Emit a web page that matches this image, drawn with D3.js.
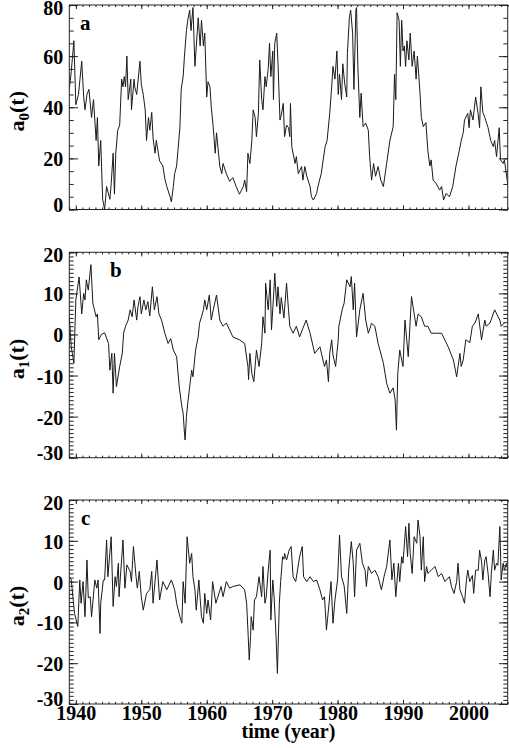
<!DOCTYPE html>
<html>
<head>
<meta charset="utf-8">
<title>a0 a1 a2</title>
<style>
  body { margin: 0; background: #fff; }
  svg text { font-family: "Liberation Serif", "Times New Roman", serif; font-weight: bold; fill: #000; }
</style>
</head>
<body>
<svg id="svg" width="509" height="748"></svg>

<script src="https://d3js.org/d3.v7.min.js"></script>
<script>
// values (time in years)
const t0 = [1939.0,1939.3,1939.7,1940.0,1940.4,1940.9,1941.2,1941.4,1941.7,1942.0,1942.4,1942.7,1943.1,1943.3,1943.5,1943.8,1944.1,1944.4,1944.7,1945.2,1945.4,1945.7,1945.9,1946.1,1946.4,1946.7,1947.0,1947.2,1947.4,1947.6,1947.8,1948.0,1948.4,1948.5,1948.9,1949.0,1949.3,1949.8,1950.0,1950.3,1950.6,1950.8,1951.1,1951.3,1951.6,1951.8,1952.1,1952.3,1952.8,1953.3,1953.6,1953.9,1954.4,1954.6,1954.9,1955.1,1955.4,1955.6,1955.9,1956.1,1956.4,1956.6,1956.9,1957.1,1957.4,1957.6,1957.9,1958.2,1958.7,1959.0,1959.2,1959.5,1959.7,1960.0,1960.2,1960.5,1960.7,1961.0,1961.3,1961.5,1962.0,1962.3,1962.5,1963.0,1963.5,1964.0,1964.5,1965.0,1965.6,1965.8,1966.1,1966.3,1966.6,1966.9,1967.1,1967.4,1967.6,1967.9,1968.1,1968.4,1968.6,1968.9,1969.1,1969.4,1969.6,1969.8,1970.1,1970.2,1970.4,1970.7,1970.9,1971.2,1971.4,1971.7,1971.9,1972.2,1972.5,1972.7,1972.8,1973.0,1973.5,1973.7,1974.0,1974.5,1974.7,1975.0,1975.3,1975.8,1976.0,1976.3,1976.8,1977.0,1977.5,1977.8,1978.1,1978.4,1978.8,1979.1,1979.3,1979.6,1979.9,1980.1,1980.3,1980.6,1980.8,1981.1,1981.4,1981.5,1981.8,1982.0,1982.3,1982.5,1982.8,1982.9,1983.1,1983.4,1983.6,1983.9,1984.3,1984.7,1984.9,1985.2,1985.5,1985.8,1986.2,1986.6,1987.0,1987.5,1988.0,1988.5,1988.7,1988.9,1989.1,1989.4,1989.6,1989.8,1990.0,1990.2,1990.4,1990.6,1990.9,1991.1,1991.4,1991.7,1992.0,1992.2,1992.6,1992.8,1993.1,1993.5,1993.8,1994.1,1994.3,1994.6,1995.1,1995.6,1995.9,1996.2,1996.6,1997.1,1997.6,1998.1,1998.6,1998.9,1999.2,1999.4,1999.9,2000.1,2000.3,2000.7,2001.1,2001.5,2001.7,2001.9,2002.2,2002.5,2003.0,2003.4,2003.8,2004.0,2004.3,2004.7,2004.9,2005.3,2005.5,2006.0];
const a0 = [47,54,66,41,45,58,44,39,45,47,36,43,27,36,17,27,4,0,9,4,10,22,6,22,31,33,51,48,52,48,60,43,51,39,51,48,45,58,49,45,39,27,36,31,38,28,22,27,19,17,12,9,5,3,9,14,17,23,32,47,52,60,70,74,78,70,79,56,75,64,74,64,69,44,50,48,40,32,22,30,17,14,18,14,11,12.5,9,6,9,11.5,7,22,18,27,39,36,28.5,37.6,58.5,43,39,52,48,55,65,52,62,43,65,69,57,35,37,41.5,28.5,33,32,28.5,41.5,24.6,18,20.7,14,16.8,11.5,16.8,13,9,5,3.7,6.3,9,14,19.4,24.6,27,37.6,48,56,51,62,45,53,43,57,49,44,61,75,78,69,47,78,79,56,36,45.5,32.4,33.8,31,20.7,11.5,18,13,16.8,11.5,9,18,27,32.4,53,43,77,74,56,74,62,64,56,66,58.5,69,56,62,51,60,45.5,36,32.4,34,23,17,19.4,11.5,10,7.6,9,3.7,6.3,5,9,17,23,27,30,35,37.6,32,39,35,44,37,32,48,38,36,32,27,24.6,27,20.7,32,19.4,18,19.4,10];

const t1 = [1939.0,1939.3,1939.7,1940.0,1940.5,1940.9,1941.2,1941.4,1941.6,1941.9,1942.3,1942.6,1943.1,1943.3,1943.5,1943.9,1944.4,1945.0,1945.2,1945.5,1945.7,1945.9,1946.2,1946.7,1947.1,1947.3,1947.6,1948.0,1948.3,1948.6,1948.9,1949.3,1949.5,1949.8,1950.0,1950.4,1950.7,1951.0,1951.3,1951.7,1952.0,1952.4,1952.7,1953.1,1953.6,1954.1,1954.5,1954.9,1955.4,1955.8,1956.2,1956.4,1956.6,1956.7,1956.9,1957.1,1957.4,1957.7,1957.9,1958.3,1958.7,1958.9,1959.2,1959.5,1959.7,1960.0,1960.4,1960.7,1961.0,1961.5,1962.0,1962.5,1963.0,1963.5,1964.0,1965.0,1965.8,1966.3,1966.4,1966.6,1966.9,1967.2,1967.6,1968.0,1968.4,1968.6,1968.9,1969.0,1969.4,1969.7,1969.9,1970.3,1970.4,1970.7,1970.9,1971.2,1971.4,1971.8,1972.2,1972.5,1972.7,1973.2,1973.7,1974.2,1974.7,1975.2,1975.8,1976.5,1977.3,1978.0,1978.3,1978.6,1978.8,1979.1,1979.3,1979.7,1980.1,1980.2,1980.7,1981.0,1981.4,1981.9,1982.1,1982.4,1982.6,1982.9,1983.4,1983.9,1984.3,1984.7,1985.2,1985.7,1986.2,1987.0,1987.5,1988.0,1988.5,1988.8,1989.0,1989.2,1989.5,1990.0,1990.3,1990.8,1991.3,1992.0,1992.3,1992.8,1993.3,1993.8,1994.3,1995.1,1995.9,1996.9,1997.7,1998.2,1998.7,1998.9,1999.2,1999.6,2000.2,2000.6,2001.0,2001.5,2002.0,2002.5,2002.7,2003.3,2004.0,2004.8,2005.0,2005.5,2006.0];
const a1 = [4.3,-3,-7,8.4,14,5,10,8.4,13.3,10.8,17,7.6,4.3,5,-1.3,0,0.4,-2.2,-8.7,-4.6,-14.3,-4.6,-12.7,-7.8,-4.6,0.3,2,3.5,6,4.3,8.4,3.5,6.8,9.2,5,8.4,6,8,4.5,11.6,6,9.2,5,3.5,0.3,-2.2,-1,-3.8,-5.4,-12.7,-17.6,-19.2,-24,-25.7,-20,-16.8,-12.7,-8.7,-10.3,-3.8,-0.6,2.7,4.3,6,8.4,6,9.6,3.5,6,9.6,3.5,2,2.8,1.1,-0.6,-1.3,-2.2,-7.8,-11,-4.6,-9.5,-11.5,-3.8,-7.8,-2.2,4.3,0.3,12.5,6,13.3,1.1,11.6,14.9,6.8,11.6,5,9,4,12.5,6,2,0.3,2,-0.6,1.5,3.5,0.3,-4.6,-3,-7.8,-6.2,-11.5,-4.6,-1.3,-5,-7.8,-1.3,2,6,7.6,13.3,11.6,14.1,6,12.5,-0.6,6,10,3.5,0.3,2.7,2,-2.2,-7,-11.9,-14.3,-13,-16,-23.3,-9.5,-3.8,-7.8,3.5,-5.4,9.2,2,5,4.3,2,2,0.3,0.3,0.3,-3,-6.2,-10.3,-4.6,-7.8,-6.2,-1.3,-2,2,2.8,5,-1.3,3.5,2,2.8,6,3.5,2,2.8];

const t2 = [1939.0,1939.3,1939.8,1940.3,1940.6,1940.8,1941.1,1941.4,1941.7,1941.9,1942.2,1942.4,1942.9,1943.2,1943.4,1943.7,1943.8,1944.2,1944.4,1944.7,1944.9,1945.4,1945.7,1946.0,1946.2,1946.5,1946.6,1947.2,1947.5,1947.8,1948.3,1948.5,1948.8,1949.2,1949.4,1949.7,1950.0,1950.3,1950.8,1951.3,1951.6,1951.8,1952.4,1952.8,1953.3,1953.9,1954.6,1955.1,1955.4,1955.9,1956.2,1956.4,1956.7,1957.0,1957.4,1957.7,1957.9,1958.2,1958.4,1958.8,1959.2,1959.5,1959.7,1960.0,1960.2,1960.6,1960.9,1961.4,1962.2,1962.5,1963.0,1963.5,1964.0,1965.1,1965.8,1966.1,1966.3,1966.5,1966.7,1966.8,1967.1,1967.3,1967.6,1968.0,1968.4,1968.6,1968.9,1969.1,1969.4,1969.7,1969.8,1970.1,1970.3,1970.6,1970.8,1971.1,1971.3,1971.6,1971.8,1971.9,1972.2,1972.6,1972.9,1973.2,1973.6,1974.2,1974.6,1974.8,1975.3,1975.8,1976.3,1976.8,1977.3,1977.7,1978.0,1978.3,1978.7,1979.0,1979.3,1979.6,1980.0,1980.3,1980.6,1981.0,1981.4,1981.7,1982.1,1982.4,1982.6,1982.9,1983.4,1983.8,1984.2,1984.4,1984.7,1985.2,1985.7,1986.2,1986.7,1987.1,1987.5,1988.0,1988.3,1988.6,1988.9,1989.3,1989.5,1989.8,1990.0,1990.4,1990.7,1990.9,1991.1,1991.4,1991.7,1992.1,1992.3,1992.6,1992.8,1993.1,1993.3,1993.6,1993.8,1994.3,1994.9,1995.4,1995.9,1996.4,1997.1,1997.4,1997.8,1998.2,1998.4,1998.7,1999.1,1999.4,1999.7,1999.9,2000.2,2000.6,2000.8,2001.1,2001.5,2001.7,2002.0,2002.2,2002.5,2002.7,2003.0,2003.3,2003.5,2003.8,2004.0,2004.3,2004.5,2004.8,2005.0,2005.3,2005.5,2005.8,2006.0];
const a2 = [1.2,0.4,-7.8,-11,0.4,-5.3,0,-8.6,5.3,-4,-3.7,-8.6,0.4,-1.6,0.4,-12.7,-5.3,0.4,0.4,10.2,1.2,11,-6.1,1.2,-1.2,4.5,-3.7,10.2,-1.6,4.1,2.5,0,8.6,1.2,-1.6,2.5,-3.7,-7,-2.9,-2,2.5,-5.3,5.3,-4.5,0,-2,0.4,-2,-5.3,-8.6,-10.2,0,-5.3,11,4.5,6.9,1.2,-2,-7,0.4,-8.6,-10.2,-2.9,-7.8,-4.5,-9.4,0,-5.3,-1.2,-3.7,0,-1.6,-1.2,-0.8,-2,-5.3,-11.9,-19.2,-13.5,-8.6,-11.9,-4.5,-3.7,1.2,-3.7,3.7,-5.3,-3.7,2.8,7.7,-9.4,0.4,-3.7,-13.5,-22.5,-5.3,0,6.1,5.5,6.9,5.3,7.7,8.6,1.2,0,6.1,8.6,1.2,0,1.2,0,0.4,-2,-4.5,-3.7,-11.9,-5.3,0,-10.2,-4.5,0.4,11.4,1.2,-1,-7.8,2.8,9.8,4.5,-3.7,7.7,9.4,4.5,2.8,-1.2,3.7,2,2.8,1.2,-2,1.2,3.7,10.2,0.4,4.5,-3.7,4.5,0,6.1,4.5,13.5,6.1,14.3,6.9,2,11,9.4,15.1,11,2.8,11,0,3.7,2,2.8,3.7,1.2,2,0,1.2,-1.2,-2.9,0,4.5,-2,-3.7,-5.3,0.5,2.8,0,1.5,-2.9,2.8,2.8,7.7,5,0.4,5.3,6.1,2,-3.7,2,7.7,2.8,4.5,4,13.5,0.4,4.5,2.8,4.5,2.8];

const yearTicks = [1940, 1950, 1960, 1970, 1980, 1990, 2000];
const panelLetters = ["a", "b", "c"];
const subscripts = ["0", "1", "2"];

const panels = [
  { t: t0, v: a0, domain: [0, 80], major: [0, 20, 40, 60, 80], minorStep: 5, top: 5, bottom: 209.5, letterX: 80 },
  { t: t1, v: a1, domain: [-30, 20], major: [-30, -20, -10, 0, 10, 20], minorStep: 1, top: 252.3, bottom: 457.7, letterX: 110 },
  { t: t2, v: a2, domain: [-30, 20], major: [-30, -20, -10, 0, 10, 20], minorStep: 1, top: 500, bottom: 704, letterX: 81 }
];

const left = 69.3, right = 507.7;
const svg = d3.select("#svg");

const x = d3.scaleLinear().domain([1939, 2006]).range([left, right]);
const yearMinor = d3.range(1939, 2007);

panels.forEach((p, i) => {
  const y = d3.scaleLinear().domain(p.domain).range([p.bottom, p.top]);
  const h = p.bottom - p.top, w = right - left;
  const yMinor = d3.range(p.domain[0], p.domain[1] + 0.001, p.minorStep);
  const g = svg.append("g");

  g.append("clipPath").attr("id", "clip" + i)
    .append("rect").attr("x", left).attr("y", p.top).attr("width", w).attr("height", h);

  const data = p.t.map((t, k) => [t, p.v[k]]);
  g.append("path")
    .datum(data)
    .attr("clip-path", `url(#clip${i})`)
    .attr("fill", "none")
    .attr("stroke", "#1a1a1a")
    .attr("stroke-width", 1)
    .attr("stroke-linejoin", "round")
    .attr("d", d3.line().x(d => x(d[0])).y(d => y(d[1])));

  // ticks pointing inward on all four sides
  const xLen = 0.02 * h, yLen = 0.02 * w;
  const addAxis = (axis, tx, ty, cls) => {
    const a = g.append("g").attr("class", cls).attr("transform", `translate(${tx},${ty})`).call(axis);
    a.select(".domain").remove();
    a.selectAll("line").attr("stroke", "#222").attr("stroke-width", 1);
    return a;
  };
  addAxis(d3.axisBottom(x).tickValues(yearMinor).tickSize(-xLen / 2).tickFormat(""), 0, p.bottom, "xm");
  addAxis(d3.axisTop(x).tickValues(yearMinor).tickSize(-xLen / 2).tickFormat(""), 0, p.top, "xm");
  const xb = addAxis(d3.axisBottom(x).tickValues(yearTicks).tickSize(-xLen).tickPadding(0)
    .tickFormat(i === 2 ? d3.format("d") : ""), 0, p.bottom, "xM");
  addAxis(d3.axisTop(x).tickValues(yearTicks).tickSize(-xLen).tickFormat(""), 0, p.top, "xM");

  addAxis(d3.axisLeft(y).tickValues(yMinor).tickSize(-yLen / 2).tickFormat(""), left, 0, "ym");
  addAxis(d3.axisRight(y).tickValues(yMinor).tickSize(-yLen / 2).tickFormat(""), right, 0, "ym");
  const yl = addAxis(d3.axisLeft(y).tickValues(p.major).tickSize(-yLen).tickPadding(6).tickFormat(d3.format("d")), left, 0, "yM");
  addAxis(d3.axisRight(y).tickValues(p.major).tickSize(-yLen).tickFormat(""), right, 0, "yM");

  yl.selectAll("text")
    .attr("font-size", 20)
    .attr("dy", d => d === p.domain[1] ? 9.5 : d === p.domain[0] ? 1.5 : 7.5)
    .text(d => d3.format("d")(d).replace("−", "-"));
  xb.selectAll("text").attr("font-size", 20).attr("dy", 15.5);

  g.append("rect")
    .attr("x", left).attr("y", p.top).attr("width", w).attr("height", h)
    .attr("fill", "none").attr("stroke", "#222").attr("stroke-width", 1);

  g.append("text")
    .attr("x", p.letterX).attr("y", p.top + 25)
    .attr("font-size", 21)
    .text(panelLetters[i]);

  const lab = g.append("text")
    .attr("transform", `translate(24,${(p.top + p.bottom) / 2 + 4}) rotate(-90)`)
    .attr("text-anchor", "middle")
    .attr("font-size", 22);
  lab.append("tspan").text("a");
  lab.append("tspan").attr("font-size", 15).attr("dy", 5).text(subscripts[i]);
  lab.append("tspan").attr("dy", -5).text("(t)");
});

svg.append("text")
  .attr("x", (left + right) / 2).attr("y", 738)
  .attr("text-anchor", "middle")
  .attr("font-size", 20)
  .text("time (year)");
</script>
</body>
</html>
